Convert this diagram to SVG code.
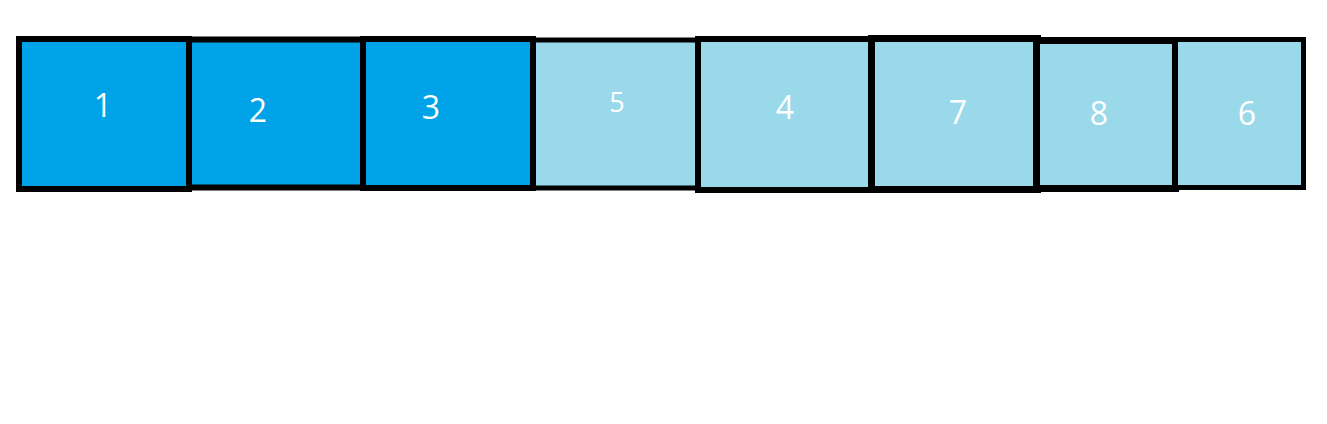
<svg xmlns="http://www.w3.org/2000/svg" width="1327" height="424" viewBox="0 0 1327 424">
<style>
.dark{fill:#00A2E8;stroke:#000;stroke-width:6}
.light{fill:#99D9EA;stroke:#000;stroke-width:6}
.lbl{fill:#fff;font-family:"Open Sans","Noto Sans","DejaVu Sans",sans-serif;font-size:32px;text-anchor:middle}
</style>
<rect width="1327" height="424" fill="#fff"/>
<g id="box1"><rect class="dark" x="19" y="39" width="170" height="150"/><text class="lbl" x="103" y="117">1</text></g>
<g id="box2"><rect class="dark" x="189" y="39.5" width="174" height="148"/><text class="lbl" x="258" y="122">2</text></g>
<g id="box3"><rect class="dark" x="363" y="39" width="170" height="149"/><text class="lbl" x="431" y="119">3</text></g>
<g id="box5"><rect class="light" x="533.5" y="40" width="164" height="148" style="stroke-width:5"/><text class="lbl" x="617" y="112" style="font-size:27px">5</text></g>
<g id="box4"><rect class="light" x="698" y="39" width="174" height="151"/><text class="lbl" x="785" y="119">4</text></g>
<g id="box7"><rect class="light" x="871.5" y="38.5" width="166" height="151" style="stroke-width:7"/><text class="lbl" x="958" y="124">7</text></g>
<g id="box8"><rect class="light" x="1036.5" y="40.5" width="139" height="148" style="stroke-width:7"/><text class="lbl" x="1099" y="125">8</text></g>
<g id="box6"><rect class="light" x="1175.5" y="39.5" width="128" height="148" style="stroke-width:5"/><text class="lbl" x="1247" y="125">6</text></g>
<g id="connectors"></g>
</svg>
